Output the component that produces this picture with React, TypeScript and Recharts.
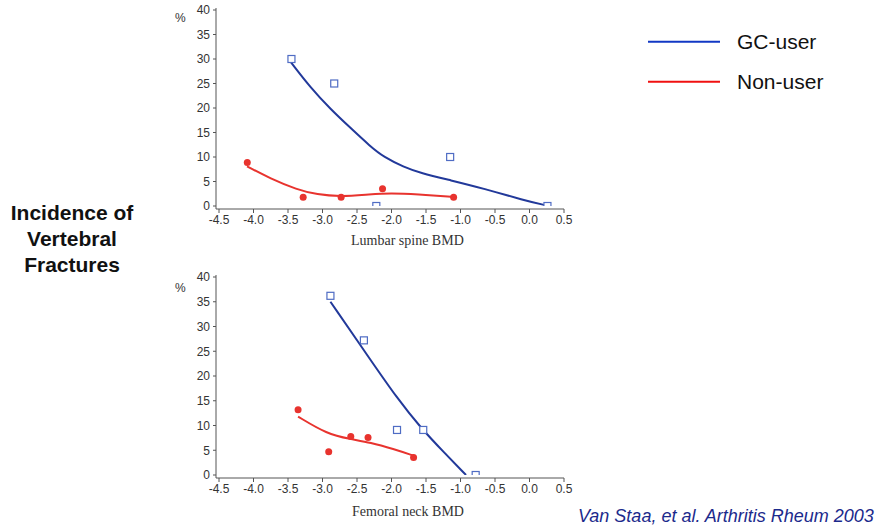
import React from 'react';
import { ComposedChart, Line, Scatter, XAxis, YAxis } from 'recharts';

// ---- Data ----
const X_TICKS = [-4.5, -4.0, -3.5, -3.0, -2.5, -2.0, -1.5, -1.0, -0.5, 0.0, 0.5];
const Y_TICKS = [0, 5, 10, 15, 20, 25, 30, 35, 40];

// Lumbar spine BMD panel
const lumbarGcX = [-3.45, -2.83, -2.22, -1.15, 0.26];
const lumbarGcY = [30, 25, 0, 10, 0];
const lumbarGcFitX = [-3.456, -3.176, -2.886, -2.6, -2.31, -2.112, -1.822, -1.58, -1.145, -0.662, -0.082, 0.25];
const lumbarGcFitY = [29.3, 24.2, 19.8, 16.0, 12.2, 10.0, 7.97, 6.74, 5.25, 3.56, 1.17, 0.1];
const lumbarNonX = [-4.09, -3.28, -2.73, -2.13, -1.1];
const lumbarNonY = [8.9, 1.8, 1.8, 3.5, 1.8];
const lumbarNonFitX = [-4.094, -3.756, -3.37, -3.08, -2.74, -2.305, -2.015, -1.628, -1.097];
const lumbarNonFitY = [8.1, 5.6, 3.35, 2.33, 1.9, 2.39, 2.62, 2.39, 1.84];

// Femoral neck BMD panel
const femoralGcX = [-2.885, -2.4, -1.92, -1.54, -0.78];
const femoralGcY = [36.2, 27.2, 9.1, 9.1, 0];
const femoralGcFitX = [-2.885, -2.306, -1.918, -1.58, -1.242, -0.92];
const femoralGcFitY = [35.0, 23.3, 15.5, 9.6, 4.6, 0];
const femoralNonX = [-3.354, -2.91, -2.59, -2.34, -1.68];
const femoralNonY = [13.2, 4.7, 7.8, 7.6, 3.56];
const femoralNonFitX = [-3.354, -2.934, -2.596, -2.306, -1.97, -1.677];
const femoralNonFitY = [11.8, 8.27, 7.26, 6.58, 5.24, 3.89];

const zip = (xs: number[], ys: number[]) => xs.map((x, i) => ({ x, y: ys[i] }));

const SANS = '"Liberation Sans", Arial, Helvetica, sans-serif';
const SERIF = '"Liberation Serif", "Times New Roman", serif';
const AXIS_COLOR = '#555';
const FIT_BLUE = '#22399a';
const PT_BLUE = '#4f6cc4';
const RED = '#e8332e';

const SquareShape = (props: any) => {
  const { cx, cy } = props;
  if (cx == null || cy == null) return null;
  return <rect x={cx - 3.5} y={cy - 3.5} width={7} height={7} fill="#fff" stroke={PT_BLUE} strokeWidth={1.2} />;
};
const DotShape = (props: any) => {
  const { cx, cy } = props;
  if (cx == null || cy == null) return null;
  return <circle cx={cx} cy={cy} r={3.5} fill={RED} />;
};

const tickStyle = { fontSize: 12, fill: '#333', fontFamily: SANS };

interface PanelProps {
  width: number;
  height: number;
  marginTop: number;
  marginBottom: number;
  gc: { x: number; y: number }[];
  gcFit: { x: number; y: number }[];
  non: { x: number; y: number }[];
  nonFit: { x: number; y: number }[];
}

const Panel = ({ width, height, marginTop, marginBottom, gc, gcFit, non, nonFit }: PanelProps) => (
  <ComposedChart width={width} height={height} margin={{ top: marginTop, right: 16, bottom: marginBottom, left: 0 }}>
    <XAxis
      type="number"
      dataKey="x"
      domain={[-4.5, 0.5]}
      ticks={X_TICKS}
      tickFormatter={(v: number) => v.toFixed(1)}
      interval={0}
      allowDataOverflow
      padding={{ left: 3, right: 0 }}
      height={30}
      tickSize={4}
      tickMargin={2}
      tick={tickStyle}
      stroke={AXIS_COLOR}
      axisLine={{ stroke: AXIS_COLOR }}
      tickLine={{ stroke: AXIS_COLOR }}
    />
    <YAxis
      type="number"
      dataKey="y"
      domain={[0, 40]}
      ticks={Y_TICKS}
      interval={0}
      allowDataOverflow
      padding={{ top: 2, bottom: 3 }}
      width={56}
      tickSize={3}
      tickMargin={3}
      tick={tickStyle}
      stroke={AXIS_COLOR}
      axisLine={{ stroke: AXIS_COLOR }}
      tickLine={{ stroke: AXIS_COLOR }}
    />
    <Line data={gcFit} dataKey="y" type="basis" stroke={FIT_BLUE} strokeWidth={2} dot={false} activeDot={false} isAnimationActive={false} />
    <Line data={nonFit} dataKey="y" type="basis" stroke={RED} strokeWidth={2} dot={false} activeDot={false} isAnimationActive={false} />
    <Scatter data={gc} dataKey="y" shape={SquareShape} isAnimationActive={false} />
    <Scatter data={non} dataKey="y" shape={DotShape} isAnimationActive={false} />
  </ComposedChart>
);

const abs = (left: number, top: number, extra: React.CSSProperties = {}): React.CSSProperties => ({
  position: 'absolute',
  left,
  top,
  whiteSpace: 'nowrap',
  ...extra,
});

export default function App() {
  return (
    <div style={{ position: 'absolute', left: 0, top: 0, width: 885, height: 527, background: '#fff', overflow: 'hidden' }}>
      <div style={abs(160, 0)}>
        <Panel
          width={420}
          height={260}
          marginTop={8}
          marginBottom={21}
          gc={zip(lumbarGcX, lumbarGcY)}
          gcFit={zip(lumbarGcFitX, lumbarGcFitY)}
          non={zip(lumbarNonX, lumbarNonY)}
          nonFit={zip(lumbarNonFitX, lumbarNonFitY)}
        />
      </div>
      <div style={abs(160, 265)}>
        <Panel
          width={420}
          height={262}
          marginTop={10}
          marginBottom={19}
          gc={zip(femoralGcX, femoralGcY)}
          gcFit={zip(femoralGcFitX, femoralGcFitY)}
          non={zip(femoralNonX, femoralNonY)}
          nonFit={zip(femoralNonFitX, femoralNonFitY)}
        />
      </div>

      {/* % labels */}
      <div style={abs(175, 10, { fontFamily: SANS, fontSize: 12, color: '#333', lineHeight: '16px' })}>%</div>
      <div style={abs(175, 280, { fontFamily: SANS, fontSize: 12, color: '#333', lineHeight: '16px' })}>%</div>

      {/* axis titles */}
      <div style={abs(351, 232, { fontFamily: SERIF, fontSize: 14, color: '#333', lineHeight: '18px' })}>Lumbar spine BMD</div>
      <div style={abs(352, 503, { fontFamily: SERIF, fontSize: 14, color: '#333', lineHeight: '18px' })}>Femoral neck BMD</div>

      {/* left label */}
      <div
        style={abs(0, 200, {
          width: 144,
          textAlign: 'center',
          fontFamily: SANS,
          fontWeight: 'bold',
          fontSize: 21,
          lineHeight: '26px',
          color: '#111',
          whiteSpace: 'normal',
        })}
      >
        Incidence of<br />Vertebral<br />Fractures
      </div>

      {/* legend */}
      <svg style={abs(640, 30)} width={90} height={60}>
        <line x1={8} x2={80} y1={11.7} y2={11.7} stroke="#1238c4" strokeWidth={2} />
        <line x1={8} x2={80} y1={51.7} y2={51.7} stroke="#f01010" strokeWidth={2} />
      </svg>
      <div style={abs(737, 29, { fontFamily: SANS, fontSize: 21, color: '#111', lineHeight: '26px' })}>GC-user</div>
      <div style={abs(737, 69, { fontFamily: SANS, fontSize: 21, color: '#111', lineHeight: '26px' })}>Non-user</div>

      {/* citation */}
      <div style={abs(578, 505, { fontFamily: SANS, fontStyle: 'italic', fontSize: 18, color: '#1c2a8c', lineHeight: '22px' })}>
        Van Staa, et al. Arthritis Rheum 2003
      </div>
    </div>
  );
}
